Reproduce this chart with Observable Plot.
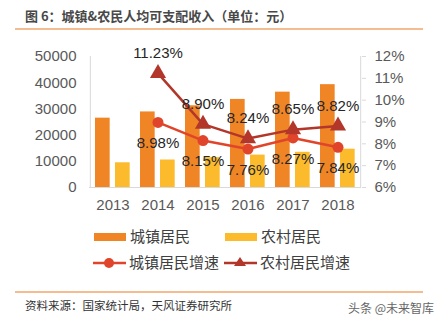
<!DOCTYPE html>
<html><head><meta charset="utf-8">
<script src="https://cdn.jsdelivr.net/npm/d3@7"></script>
<script src="https://cdn.jsdelivr.net/npm/@observablehq/plot@0.6"></script>
<style>
body{margin:0;background:#fff;font-family:"Liberation Sans",Arial,"Noto Sans CJK SC",sans-serif;}
#wrap{position:relative;width:435px;height:323px;overflow:hidden;}
.abs{position:absolute;white-space:nowrap;}
#title{left:25px;top:6px;font-size:13px;font-weight:bold;color:#484848;font-family:"Noto Sans CJK SC",sans-serif;}
.hr{left:15px;width:408px;height:2px;background:#F5BC90;}
.lg{font-size:15px;color:#404040;font-family:"Noto Sans CJK SC",sans-serif;line-height:20px;}
#src{left:25px;top:297px;font-size:11.5px;color:#333;font-family:"Noto Sans CJK SC",sans-serif;}
#wm{left:348px;top:299px;font-size:12px;color:#666;font-family:"Noto Sans CJK SC",sans-serif;}
#chart{position:absolute;left:0;top:40px;}
</style></head>
<body><div id="wrap">
<div id="title" class="abs">图 6：城镇&amp;农民人均可支配收入（单位：元）</div>
<div class="abs hr" style="top:28px"></div>
<div id="chart"></div>
<div id="legend"></div>
<div class="abs hr" style="top:291px"></div>
<div id="src" class="abs">资料来源：国家统计局，天风证券研究所</div>
<div id="wm" class="abs">头条 @未来智库</div>
</div>
<script>
const years = ["2013","2014","2015","2016","2017","2018"];
const urbanIncome = [26467, 28844, 31195, 33616, 36396, 39251];
const ruralIncome = [9430, 10489, 11422, 12363, 13432, 14617];
const growthYears = ["2014","2015","2016","2017","2018"];
const urbanGrowth = [8.98, 8.15, 7.76, 8.27, 7.84];
const ruralGrowth = [11.23, 8.90, 8.24, 8.65, 8.82];
const leftTicks = [0, 10000, 20000, 30000, 40000, 50000];
const rightTicks = [6, 7, 8, 9, 10, 11, 12];
const seriesNames = ["城镇居民", "农村居民", "城镇居民增速", "农村居民增速"];

const C_URB = "#F08526", C_RUR = "#FBBB2C", C_UG = "#E0452B", C_RG = "#B3362B";
const yMax = 50000, pMin = 6, pMax = 12;
const toY = p => (p - pMin) / (pMax - pMin) * yMax;
const fromY = v => v / yMax * (pMax - pMin) + pMin;

const urban = years.map((y,i)=>({year:y, v:urbanIncome[i]}));
const rural = years.map((y,i)=>({year:y, v:ruralIncome[i]}));
const ug = growthYears.map((y,i)=>({year:y, g:urbanGrowth[i], v:toY(urbanGrowth[i])}));
const rg = growthYears.map((y,i)=>({year:y, g:ruralGrowth[i], v:toY(ruralGrowth[i])}));

const bw = 272/6;
const chart = Plot.plot({
  width: 435, height: 175,
  marginLeft: 89, marginRight: 74, marginTop: 16, marginBottom: 28,
  style: {fontSize: "15px", fontFamily: "'Liberation Sans', Arial, sans-serif", color: "#595959", background: "transparent"},
  x: {domain: years, padding: 0, axis: null, label: null},
  y: {domain: [0, yMax], axis: null, label: null},
  marks: [
    Plot.barY(urban, {x:"year", y:"v", fill: C_URB, insetLeft: 5, insetRight: bw - 20}),
    Plot.barY(rural, {x:"year", y:"v", fill: C_RUR, insetLeft: 25, insetRight: bw - 40}),
    Plot.ruleX([0], {x: () => years[0], stroke: "#D9D9D9", dx: -bw/2, y1: 0, y2: yMax}),
    Plot.ruleX([0], {x: () => years[5], stroke: "#D9D9D9", dx: bw/2, y1: 0, y2: yMax}),
    Plot.ruleY([0], {stroke: "#D9D9D9"}),
    Plot.axisX({tickSize: 0, tickPadding: 12, fill: "#595959", fontSize: 15, label: null}),
    Plot.axisY(leftTicks, {anchor: "left", tickSize: 0, tickPadding: 13, fill: "#595959", fontSize: 15, label: null, tickFormat: d => String(d)}),
    Plot.axisY(rightTicks.map(toY), {anchor: "right", tickSize: 4, tickPadding: 9, stroke: "#D9D9D9", fill: "#595959", fontSize: 15, label: null, tickFormat: d => Math.round(fromY(d)) + "%"}),
    Plot.line(ug, {x:"year", y:"v", stroke: C_UG, strokeWidth: 2.5}),
    Plot.line(rg, {x:"year", y:"v", stroke: C_RG, strokeWidth: 2.5}),
    Plot.dot(ug, {x:"year", y:"v", fill: C_UG, r: 5.5, symbol: "circle"}),
    Plot.dot(rg, {x:"year", y:"v", fill: C_RG, r: 6, symbol: "triangle"}),
    Plot.text(ug, {x:"year", y:"v", text: d => d.g.toFixed(2) + "%", dy: 21, fill: "#262626", fontSize: 15}),
    Plot.text(rg, {x:"year", y:"v", text: d => d.g.toFixed(2) + "%", dy: -20, fill: "#262626", fontSize: 15})
  ]
});
document.getElementById("chart").appendChild(chart);

// legend
const lg = document.getElementById("legend");
const items = [
  {x:94, y:227, type:"bar", color:C_URB, label:seriesNames[0]},
  {x:225, y:227, type:"bar", color:C_RUR, label:seriesNames[1]},
  {x:93, y:253, type:"dot", color:C_UG, label:seriesNames[2]},
  {x:224, y:253, type:"tri", color:C_RG, label:seriesNames[3]}
];
items.forEach(it => {
  const sw = document.createElementNS("http://www.w3.org/2000/svg","svg");
  sw.setAttribute("width", 34); sw.setAttribute("height", 20);
  sw.style.position = "absolute"; sw.style.left = it.x + "px"; sw.style.top = it.y + "px";
  if (it.type === "bar") {
    sw.innerHTML = `<rect x="0" y="6" width="32" height="8" fill="${it.color}"/>`;
  } else if (it.type === "dot") {
    sw.innerHTML = `<line x1="0" x2="33" y1="10" y2="10" stroke="${it.color}" stroke-width="2.5"/><circle cx="16" cy="10" r="5" fill="${it.color}"/>`;
  } else {
    sw.innerHTML = `<line x1="0" x2="33" y1="10" y2="10" stroke="${it.color}" stroke-width="2.5"/><path d="M16,4 L22,13 L10,13 Z" fill="${it.color}"/>`;
  }
  lg.appendChild(sw);
  const t = document.createElement("div");
  t.className = "abs lg"; t.textContent = it.label;
  t.style.left = (it.x + 36) + "px"; t.style.top = (it.y - 1) + "px";
  lg.appendChild(t);
});
</script>
</body></html>
